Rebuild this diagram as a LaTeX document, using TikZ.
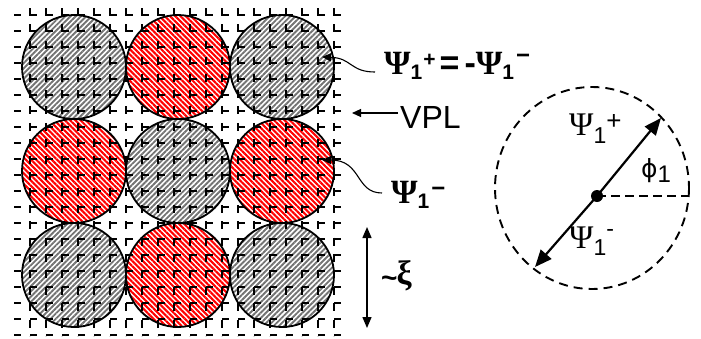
\documentclass[tikz,border=0pt]{standalone}
\usepackage{fontspec}
\setmainfont{Liberation Sans}
\newfontfamily\grk{Liberation Serif}
\newfontfamily\phifont{DejaVu Sans}
\usetikzlibrary{patterns.meta,arrows.meta}

% raised / lowered index in its own size
\newcommand{\idx}[3]{\raisebox{#1}{\fontsize{#2}{#2}\selectfont #3}}

\tikzset{
  graycell/.style={pattern={Lines[angle=45,distance=3.7pt,line width=1.9pt]},pattern color=black!55},
  redcell/.style={pattern={Lines[angle=-45,distance=3.7pt,line width=2.1pt]},pattern color=red},
  rim/.style={draw=black,line width=1.8pt},
  hline/.style={line width=2.6pt,dash pattern=on 7pt off 9pt},
  vline/.style={line width=2.6pt,dash pattern=on 8pt off 8.4pt},
  pointer/.style={line width=1.1pt,-{Triangle[length=9pt,width=8pt]}},
  span/.style={line width=1.4pt,{Triangle[length=11pt,width=9pt]}-{Triangle[length=11pt,width=9pt]}},
  vector/.style={line width=2.2pt,-{Triangle[length=17pt,width=14pt]}},
  dashring/.style={line width=1.9pt,dash pattern=on 9pt off 6pt},
  lbl/.style={inner sep=0pt,anchor=base west},
}

\begin{document}
\begin{tikzpicture}[x=1pt,y=-1pt]
\useasboundingbox (0,0) rectangle (701,338);

% hatched domains of the 3x3 lattice
\foreach \i in {0,1,2}{
  \foreach \j in {0,1,2}{
    \pgfmathtruncatemacro{\parity}{mod(\i+\j,2)}
    \ifnum\parity=0
      \fill[graycell] ({74+104*\i},{67+104*\j}) circle (52);
    \else
      \fill[redcell] ({74+104*\i},{67+104*\j}) circle (52);
    \fi
  }
}

% dashed vortex grid
\foreach \k in {0,...,20}{
  \draw[hline] (14,{15+16*\k}) -- (343,{15+16*\k});
}
\foreach \k in {0,...,19}{
  \draw[vline] ({30+16*\k},8) -- ({30+16*\k},336);
}

% domain outlines
\foreach \i in {0,1,2}{
  \foreach \j in {0,1,2}{
    \draw[rim] ({74+104*\i},{67+104*\j}) circle (52);
  }
}

% labels on the lattice
\node[lbl] (eqlab) at (384,74) {\fontsize{34}{34}\selectfont\bfseries
  {\grk Ψ}\idx{-5pt}{21}{1}\kern1pt\idx{8pt}{21}{+}\kern4pt=\kern5pt-{\grk Ψ}\idx{-5pt}{21}{1}\kern2pt\idx{11pt}{24}{−}};
\node[lbl] (vpl) at (400,128) {\fontsize{32}{32}\selectfont VPL};
\node[lbl] (minlab) at (391,203) {\fontsize{34}{34}\selectfont\bfseries
  {\grk Ψ}\idx{-5pt}{21}{1}\kern2pt\idx{7pt}{24}{−}};
\node[lbl] (xilab) at (381,284) {\bfseries\fontsize{28}{28}\selectfont\raisebox{-3pt}{\textasciitilde}\kern-1pt\fontsize{34}{34}\selectfont{\grk ξ}};

\coordinate (s1) at (375,72);
\coordinate (t1) at (322,57);
\coordinate (s2) at (398,113);
\coordinate (t2) at (352,113);
\coordinate (s3) at (382,193);
\coordinate (t3) at (322,160);
\coordinate (ua) at (367,227);
\coordinate (da) at (367,328);

\draw[pointer] (s1) .. controls (350,72) and (352,58) .. (t1);
\draw[pointer] (s2) -- (t2);
\draw[pointer] (s3) .. controls (355,193) and (362,160) .. (t3);
\draw[span] (ua) -- (da);

% order parameter phase circle
\draw[dashring] (592,188) ellipse [x radius=97, y radius=101];
\node[circle,fill=black,inner sep=0pt,minimum size=12pt] (ctr) at (597,196) {};
\coordinate (tipA) at (661,118);
\coordinate (tipB) at (535,267);
\coordinate (edge) at (688,196);
\draw[dashring,line width=1.7pt,dash pattern=on 9pt off 5pt] (ctr.center) -- (edge);
\draw[vector] (ctr.center) -- (tipA);
\draw[vector] (ctr.center) -- (tipB);

\node[lbl] (plab) at (569,135) {\fontsize{33}{33}\selectfont
  {\grk Ψ}\idx{-8pt}{23}{1}\idx{6pt}{26}{+}};
\node[lbl] (philab) at (641,177) {{\phifont\fontsize{25}{25}\selectfont ϕ}\idx{-5pt}{24}{1}};
\node[lbl] (mlab) at (569,248) {\fontsize{33}{33}\selectfont
  {\grk Ψ}\idx{-7pt}{23}{1}\idx{12pt}{23}{-}};
\end{tikzpicture}
\end{document}
